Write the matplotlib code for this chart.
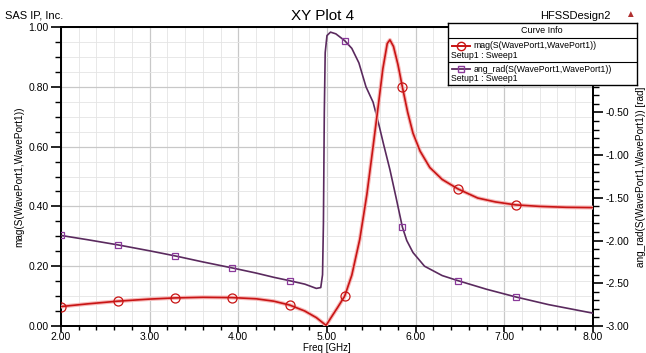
import numpy as np
import matplotlib
matplotlib.use("Agg")
import matplotlib.pyplot as plt
import matplotlib.patheffects as pe

plt.rcParams["font.family"] = ["Liberation Sans", "DejaVu Sans"]

# mag(S(WavePort1,WavePort1))
freq_mag = [2.00, 2.30, 2.64, 3.00, 3.29, 3.60, 3.93, 4.20, 4.40, 4.58, 4.75, 4.88,
            4.99, 5.05, 5.12, 5.20, 5.28, 5.37, 5.45, 5.52, 5.58, 5.63, 5.68, 5.71,
            5.75, 5.80, 5.85, 5.91, 5.97, 6.05, 6.16, 6.30, 6.48, 6.70, 6.90, 7.13,
            7.40, 7.70, 8.00]
mag = [0.065, 0.074, 0.083, 0.090, 0.094, 0.096, 0.095, 0.091, 0.083, 0.070, 0.050, 0.028,
       0.002, 0.030, 0.062, 0.100, 0.170, 0.290, 0.440, 0.600, 0.740, 0.860, 0.945, 0.957,
       0.935, 0.875, 0.800, 0.715, 0.645, 0.585, 0.530, 0.490, 0.458, 0.428, 0.415, 0.405,
       0.400, 0.397, 0.396]

# ang_rad(S(WavePort1,WavePort1))
freq_ang = [2.00, 2.30, 2.64, 3.00, 3.29, 3.60, 3.93, 4.20, 4.40, 4.58, 4.75, 4.88,
            4.93, 4.95, 4.96, 4.97, 4.98, 5.00, 5.04, 5.10, 5.20, 5.28, 5.36, 5.44,
            5.52, 5.58, 5.64, 5.71, 5.78, 5.85, 5.90, 5.97, 6.10, 6.30, 6.48, 6.80,
            7.13, 7.50, 8.00]
ang = [-1.94, -1.99, -2.05, -2.12, -2.18, -2.25, -2.32, -2.38, -2.43, -2.47, -2.51, -2.56,
       -2.55, -2.40, -1.80, -0.50, 0.20, 0.40, 0.44, 0.42, 0.34, 0.25, 0.08, -0.20,
       -0.38, -0.62, -0.88, -1.17, -1.50, -1.84, -2.00, -2.14, -2.30, -2.41, -2.47, -2.57,
       -2.66, -2.75, -2.85]

marker_freqs = [2.00, 2.64, 3.29, 3.93, 4.58, 5.20, 5.85, 6.48, 7.13]

red = "#c81414"
purple = "#5a2a5e"
purple_mk = "#8a3a9a"

fig = plt.figure(figsize=(6.46, 3.53), dpi=100)
ax = fig.add_axes([0.0944, 0.0765, 0.8235, 0.847])
ax2 = ax.twinx()

ax.set_xlim(2, 8)
ax.set_ylim(0, 1)
ax2.set_ylim(-3, 0.5)

ax.set_xticks(np.arange(2, 8.01, 1))
ax.set_xticks(np.arange(2, 8.01, 0.2), minor=True)
ax.set_yticks(np.arange(0, 1.01, 0.2))
ax.set_yticks(np.arange(0, 1.01, 0.05), minor=True)
ax2.set_yticks(np.arange(-3, 0.51, 0.5))
ax2.set_yticks(np.arange(-3, 0.51, 0.1), minor=True)

ax.set_xticklabels([f"{v:.2f}" for v in np.arange(2, 8.01, 1)])
ax.set_yticklabels([f"{v:.2f}" for v in np.arange(0, 1.01, 0.2)])
# the 0.00 label sits under the curve info box, so it is never seen
ax2.set_yticklabels(["" if abs(v) < 1e-9 else f"{v:.2f}" for v in np.arange(-3, 0.51, 0.5)])

ax.grid(which="major", color="#c8c8c8", linewidth=0.9)
ax.grid(which="minor", color="#e4e4e4", linewidth=0.6)
ax.set_axisbelow(True)

for a in (ax, ax2):
    a.tick_params(which="major", direction="out", length=7, width=1.2, labelsize=7.5, pad=2)
    a.tick_params(which="minor", direction="out", length=4, width=1.0)
    for s in a.spines.values():
        s.set_linewidth(1.3)
ax.tick_params(axis="x", which="major", length=4, pad=0.5)
ax.tick_params(axis="x", which="minor", length=3)

ax.set_xlabel("Freq [GHz]", fontsize=7, va="center")
ax.xaxis.set_label_coords(0.5, -0.074)
ax.set_ylabel("mag(S(WavePort1,WavePort1))", fontsize=7.2, va="center")
ax.yaxis.set_label_coords(-0.078, 0.5)
ax2.set_ylabel("ang_rad(S(WavePort1,WavePort1)) [rad]", fontsize=7.2, va="center", rotation=90)
ax2.yaxis.set_label_coords(1.09, 0.5)

mag_idx = [freq_mag.index(f) for f in marker_freqs]
ang_idx = [freq_ang.index(f) for f in marker_freqs]
mag_r = np.array(mag) * 3.5 - 3  # left axis values on right axis scale

ax2.plot(freq_ang, ang, color=purple, linewidth=1.2, zorder=3)
ax2.plot(np.array(freq_ang)[ang_idx], np.array(ang)[ang_idx], linestyle="none", marker="s",
         markersize=4, markerfacecolor="none", markeredgecolor=purple_mk,
         markeredgewidth=0.9, zorder=3)
ax2.plot(freq_mag, mag_r, color=red, linewidth=1.2,
         path_effects=[pe.Stroke(linewidth=2.8, foreground="#f6b8b8"), pe.Normal()],
         zorder=4)
ax2.plot(np.array(freq_mag)[mag_idx], mag_r[mag_idx], linestyle="none", marker="o",
         markersize=6.5, markerfacecolor="none", markeredgecolor=red,
         markeredgewidth=0.9, zorder=4)

fig.text(0.008, 0.955, "SAS IP, Inc.", fontsize=8, ha="left", va="center")
fig.text(0.5, 0.955, "XY Plot 4", fontsize=11, ha="center", va="center")
fig.text(0.945, 0.955, "HFSSDesign2", fontsize=8, ha="right", va="center")
fig.text(0.975, 0.96, "\u25b2", fontsize=7, color="#b03030", ha="center", va="center")

# curve info box
lg = fig.add_axes([0.693, 0.759, 0.293, 0.176], zorder=10)
lg.set_xlim(0, 189)
lg.set_ylim(62, 0)
lg.set_xticks([])
lg.set_yticks([])
lg.set_facecolor("white")
for s in lg.spines.values():
    s.set_linewidth(1.0)
lg.text(94, 8, "Curve Info", fontsize=6.5, ha="center", va="center")
lg.axhline(15, color="black", linewidth=0.8)
lg.axhline(38.5, color="black", linewidth=0.8)
lg.plot([4, 22], [23, 23], color=red, linewidth=1.4)
lg.plot([13], [23], marker="o", markersize=6, markerfacecolor="none", markeredgecolor=red)
lg.text(26, 23, "mag(S(WavePort1,WavePort1))", fontsize=6.3, va="center")
lg.text(3, 32, "Setup1 : Sweep1", fontsize=6.3, va="center")
lg.plot([4, 22], [46, 46], color=purple, linewidth=1.3)
lg.plot([13], [46], marker="s", markersize=4, markerfacecolor="none", markeredgecolor=purple_mk)
lg.text(26, 46, "ang_rad(S(WavePort1,WavePort1))", fontsize=6.3, va="center")
lg.text(3, 55, "Setup1 : Sweep1", fontsize=6.3, va="center")

fig.savefig("out.png", dpi=100)
